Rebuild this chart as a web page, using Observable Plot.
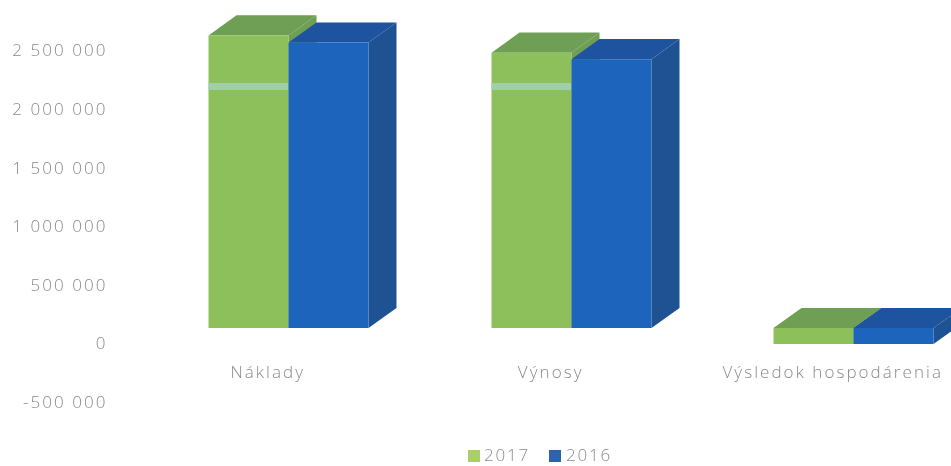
<!DOCTYPE html>
<html>
<head>
<meta charset="utf-8">
<script src="https://cdn.jsdelivr.net/npm/d3@7"></script>
<script src="https://cdn.jsdelivr.net/npm/@observablehq/plot@0.6"></script>
<style>
html,body{margin:0;padding:0;background:#fff;overflow:hidden}
#chart svg{display:block;background:#fff;filter:blur(0.45px)}
#chart svg text{letter-spacing:2.05px}
#legend{height:26px;position:relative;font:300 17px "Open Sans",sans-serif;color:#8a8a8a;letter-spacing:1.8px;filter:blur(0.45px)}
#legend span{position:absolute;top:1px;line-height:28px}
#legend i{position:absolute;top:10px;width:12px;height:12px}
</style>
</head>
<body>
<div id="chart"></div>
<div id="legend"></div>
<script>
const categories = ["Náklady", "Výnosy", "Výsledok hospodárenia"];
const seriesNames = ["2017", "2016"];
const values2017 = [2632000, 2485000, 136000];
const values2016 = [2572000, 2430000, 136000];
const bases = [136000, 136000, 0];
const yTicks = [-500000, 0, 500000, 1000000, 1500000, 2000000, 2500000];
const palette = {
  "2017": {front: "#8dbf5b", top: "#6f9e55", side: "#6f9e55", key: "#a9cf6a"},
  "2016": {front: "#1c64bc", top: "#1d539f", side: "#1f5292", key: "#2f62ad"}
};
const bandValue = 2197000;
const labelValue = -243000;

// chart geometry, in bar widths and value units
const groupStart = [0, 3.5375, 7.0625];
const labelShift = 0.74;
const depthX = 0.35;
const depthY = 172000;

const faces = [];
function addFace(id, color, pts) {
  pts.forEach(([x, y]) => faces.push({id, color, x, y}));
}
categories.forEach((c, g) => {
  seriesNames.forEach((s, k) => {
    const v = (k === 0 ? values2017 : values2016)[g];
    const b = bases[g];
    const x0 = groupStart[g] + k, x1 = x0 + 1;
    const col = palette[s];
    addFace(`${c}${s}side`, col.side, [[x1, v], [x1 + depthX, v + depthY], [x1 + depthX, b + depthY], [x1, b]]);
    addFace(`${c}${s}top`, col.top, [[x0, v], [x0 + depthX, v + depthY], [x1 + depthX, v + depthY], [x1, v]]);
    addFace(`${c}${s}front`, col.front, [[x0, b], [x0, v], [x1, v], [x1, b]]);
  });
});

const fmt = d => d3.format(",")(d).replace(/,/g, " ").replace("−", "-");
const textStyle = {
  fontSize: 17,
  fontFamily: "'Open Sans', sans-serif",
  fontWeight: 300,
  fill: "#8a8a8a"
};

const plot = Plot.plot({
  width: 951,
  height: 440,
  marginLeft: 105,
  marginRight: 0,
  marginTop: 0,
  marginBottom: 0,
  x: {domain: [-1.2875, 9.2875], axis: null},
  y: {domain: [-823400, 2930900], axis: null},
  marks: [
    Plot.line(faces, {x: "x", y: "y", z: "id", fill: "color", stroke: null}),
    Plot.ruleY(categories.slice(0, 2).map((c, g) => ({g})), {
      y: () => bandValue,
      x1: d => groupStart[d.g],
      x2: d => groupStart[d.g] + 1,
      stroke: "#a5d5c0",
      strokeWidth: 7,
      strokeOpacity: 0.75
    }),
    Plot.axisY({
      ticks: yTicks,
      tickFormat: fmt,
      anchor: "left",
      tickSize: 0,
      tickPadding: -2,
      label: null,
      ...textStyle
    }),
    Plot.text(categories, {
      x: (c, i) => groupStart[i] + labelShift,
      y: () => labelValue,
      text: d => d,
      ...textStyle
    })
  ]
});
document.getElementById("chart").appendChild(plot);

const legend = document.getElementById("legend");
const keyX = [468, 549], textX = [484, 566];
seriesNames.forEach((s, k) => {
  const i = document.createElement("i");
  i.style.left = keyX[k] + "px";
  i.style.background = palette[s].key;
  const t = document.createElement("span");
  t.style.left = textX[k] + "px";
  t.textContent = s;
  legend.append(i, t);
});
</script>
</body>
</html>
